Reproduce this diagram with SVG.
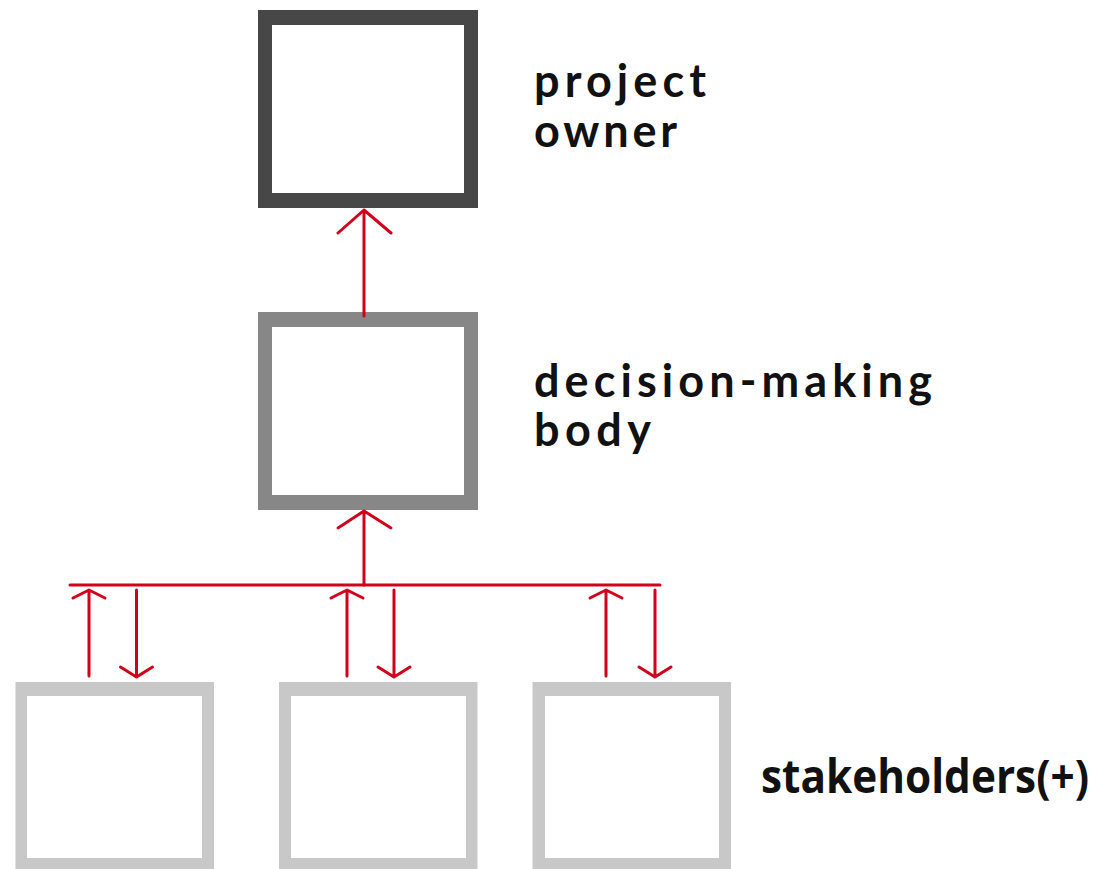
<svg xmlns="http://www.w3.org/2000/svg" width="1099" height="869" viewBox="0 0 1099 869">
<style>
.frame{fill-rule:evenodd}
.owner{fill:#474747}
.body{fill:#878787}
.stake{fill:#c8c8c8}
.conn{fill:none;stroke:#d0021b;stroke-width:3;stroke-linecap:round;stroke-linejoin:round}
.lbl{font-family:Lato,"Noto Sans",sans-serif;font-weight:700;font-size:45px;fill:#111}
.lbl2{font-family:"Open Sans","Noto Sans",sans-serif;font-weight:700;font-size:47px;fill:#111}
</style>
<rect width="1099" height="869" fill="#fff"/>
<g id="project-owner">
<path class="frame owner" d="M258,10H478V208H258Z M272,25V193H464V25Z"/>
<text class="lbl" x="534" y="97" textLength="172" lengthAdjust="spacing">project</text>
<text class="lbl" x="534" y="147" textLength="143" lengthAdjust="spacing">owner</text>
</g>
<g id="decision-making-body">
<path class="frame body" d="M258,312H478V510H258Z M272,327V495H464V327Z"/>
<text class="lbl" x="534" y="397" textLength="398" lengthAdjust="spacing">decision-making</text>
<text class="lbl" x="534" y="446" textLength="117" lengthAdjust="spacing">body</text>
</g>
<g id="stakeholder-1">
<path class="frame stake" d="M15.5,682H214V872H15.5Z M27,696V858H202V696Z"/>
</g>
<g id="stakeholder-2">
<path class="frame stake" d="M279,682H477.5V872H279Z M291,696V858H466V696Z"/>
</g>
<g id="stakeholder-3">
<path class="frame stake" d="M532.5,682H731V872H532.5Z M545,696V858H719V696Z"/>
<text class="lbl2" transform="translate(761,793) scale(0.82,1)" x="0" y="0" textLength="400" lengthAdjust="spacingAndGlyphs">stakeholders(+)</text>
</g>
<g id="connectors">
<path class="conn" d="M364,316V210 M338,233L364,210L391,233"/>
<path class="conn" d="M364,585V511 M338,528L364,511L391,528"/>
<path class="conn" d="M70,585H660"/>
<path class="conn" d="M89,676V590 M73,598L89,590L105,598"/>
<path class="conn" d="M136.5,590V677 M120.5,667L136.5,677L152.5,667"/>
<path class="conn" d="M347,676V590 M331,598L347,590L363,598"/>
<path class="conn" d="M394,590V677 M378,667L394,677L410,667"/>
<path class="conn" d="M606,676V590 M590,598L606,590L622,598"/>
<path class="conn" d="M655,590V677 M639,667L655,677L671,667"/>
</g>
</svg>
